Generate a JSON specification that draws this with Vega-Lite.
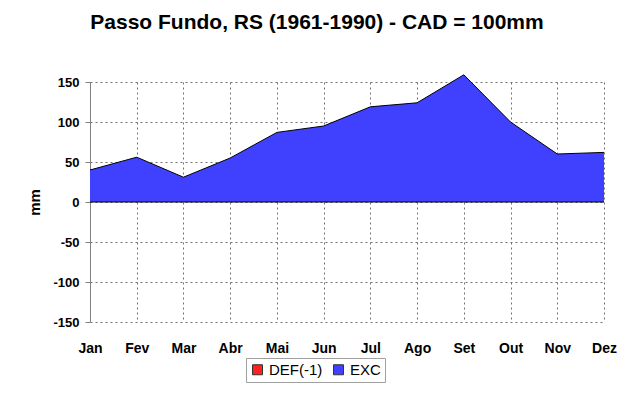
{
  "$schema": "https://vega.github.io/schema/vega-lite/v6.json",
  "width": 514,
  "height": 240,
  "autosize": {"type": "none"},
  "padding": {"left": 90, "top": 82, "right": 29, "bottom": 91},
  "background": "white",
  "title": {
    "text": "Passo Fundo, RS (1961-1990) - CAD = 100mm",
    "font": "Liberation Sans",
    "fontSize": 21,
    "fontWeight": "bold",
    "color": "black",
    "anchor": "middle",
    "offset": 40,
    "dx": -30
  },
  "data": {
    "values": [
      {"month": "Jan", "series": "DEF(-1)", "value": 0},
      {"month": "Fev", "series": "DEF(-1)", "value": 0},
      {"month": "Mar", "series": "DEF(-1)", "value": 0},
      {"month": "Abr", "series": "DEF(-1)", "value": 0},
      {"month": "Mai", "series": "DEF(-1)", "value": 0},
      {"month": "Jun", "series": "DEF(-1)", "value": 0},
      {"month": "Jul", "series": "DEF(-1)", "value": 0},
      {"month": "Ago", "series": "DEF(-1)", "value": 0},
      {"month": "Set", "series": "DEF(-1)", "value": 0},
      {"month": "Out", "series": "DEF(-1)", "value": 0},
      {"month": "Nov", "series": "DEF(-1)", "value": 0},
      {"month": "Dez", "series": "DEF(-1)", "value": 0},
      {"month": "Jan", "series": "EXC", "value": 40},
      {"month": "Fev", "series": "EXC", "value": 56},
      {"month": "Mar", "series": "EXC", "value": 31},
      {"month": "Abr", "series": "EXC", "value": 55},
      {"month": "Mai", "series": "EXC", "value": 87},
      {"month": "Jun", "series": "EXC", "value": 95},
      {"month": "Jul", "series": "EXC", "value": 119},
      {"month": "Ago", "series": "EXC", "value": 124},
      {"month": "Set", "series": "EXC", "value": 159},
      {"month": "Out", "series": "EXC", "value": 100},
      {"month": "Nov", "series": "EXC", "value": 60},
      {"month": "Dez", "series": "EXC", "value": 62}
    ]
  },
  "encoding": {
    "x": {
      "field": "month",
      "type": "ordinal",
      "sort": ["Jan", "Fev", "Mar", "Abr", "Mai", "Jun", "Jul", "Ago", "Set", "Out", "Nov", "Dez"],
      "scale": {"type": "point", "padding": 0},
      "axis": {
        "title": null,
        "labelAngle": 0,
        "labelFont": "Liberation Sans",
        "labelFontSize": 14,
        "labelFontWeight": "bold",
        "labelColor": "black",
        "labelPadding": 19,
        "ticks": false,
        "domain": false,
        "grid": true,
        "gridDash": [2, 3],
        "gridColor": "#707070",
        "gridOpacity": 1,
        "labelFlush": false
      }
    },
    "y": {
      "field": "value",
      "type": "quantitative",
      "stack": null,
      "scale": {"domain": [-150, 150], "nice": false, "zero": false},
      "axis": {
        "title": "mm",
        "titleFont": "Liberation Sans",
        "titleFontSize": 15,
        "titleFontWeight": "bold",
        "titleColor": "black",
        "titlePadding": 10,
        "values": [-150, -100, -50, 0, 50, 100, 150],
        "labelExpr": "'' + datum.value",
        "labelOverlap": false,
        "labelFont": "Liberation Sans",
        "labelFontSize": 13,
        "labelFontWeight": "bold",
        "labelColor": "black",
        "labelPadding": 6,
        "tickSize": 5,
        "tickColor": "#808080",
        "domainColor": "#808080",
        "grid": true,
        "gridDash": [2, 3],
        "gridColor": "#707070",
        "gridOpacity": 1
      }
    }
  },
  "layer": [
    {
      "mark": {"type": "area", "opacity": 1},
      "encoding": {
        "color": {
          "field": "series",
          "type": "nominal",
          "scale": {"domain": ["DEF(-1)", "EXC"], "range": ["#FF2020", "#4040FF"]},
          "legend": {
            "title": null,
            "orient": "none",
            "direction": "horizontal",
            "legendX": 156,
            "legendY": 276,
            "symbolType": "square",
            "symbolSize": 100,
            "symbolOpacity": 1,
            "symbolStrokeColor": "#333333",
            "symbolStrokeWidth": 1,
            "labelFont": "Liberation Sans",
            "labelFontSize": 15,
            "labelColor": "black",
            "columnPadding": 8,
            "strokeColor": "#a0a0a0",
            "padding": 4,
            "fillColor": "white",
            "encode": {
              "symbols": {"update": {"stroke": {"value": "#333333"}, "strokeWidth": {"value": 1}}}
            }
          }
        }
      }
    },
    {
      "mark": {"type": "line", "color": "black", "strokeWidth": 1},
      "encoding": {"detail": {"field": "series", "type": "nominal"}}
    },
    {
      "mark": {"type": "rule", "color": "black", "strokeWidth": 2},
      "encoding": {"y": {"datum": 0}}
    }
  ],
  "config": {
    "view": {"stroke": null}
  }
}
